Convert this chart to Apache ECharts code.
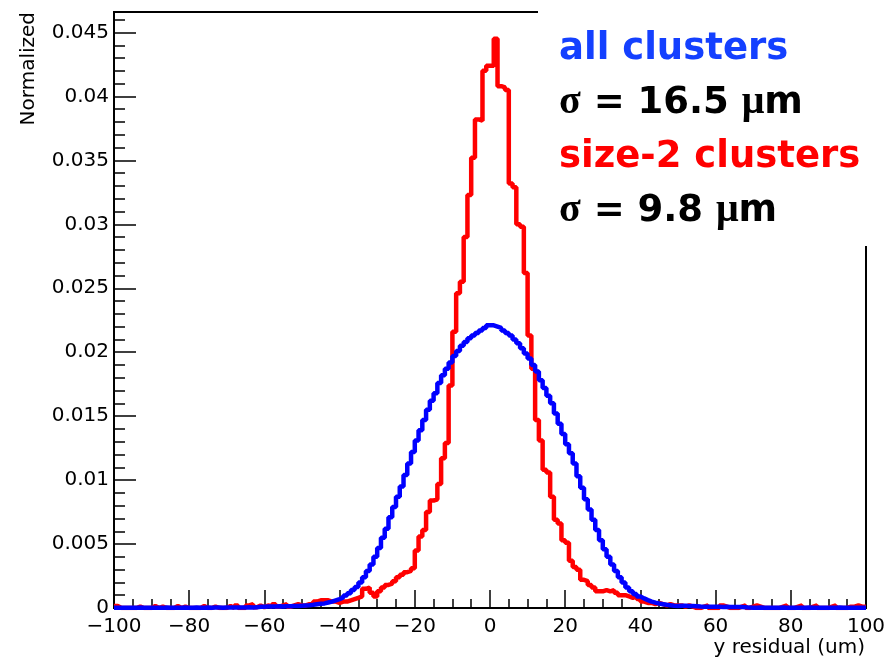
<!DOCTYPE html>
<html>
<head>
<meta charset="utf-8">
<title>y residual</title>
<script src="https://cdn.jsdelivr.net/npm/echarts/dist/echarts.min.js"></script>
<style>
  html, body { margin: 0; padding: 0; background: #fff; }
  #chart { width: 896px; height: 663px; }
</style>
</head>
<body>
<div id="chart"></div>
<script>
// histogram binning: 200 bins of 1 um from -100 to 100
const binLow = -100
const binHigh = 100
const binWidth = 1

// all clusters, normalized counts per bin
const allClusters = [
  0.00002, 0.00001, 0.00002, 0.00002, 0.00001, 0.00002, 0.00003, 0.00002, 0.00001, 0.00002,
  0.00002, 0.00002, 0.00001, 0.00003, 0.00002, 0.00002, 0.00001, 0.00002, 0.00003, 0.00002,
  0.00002, 0.00003, 0.00002, 0.00002, 0.00003, 0.00002, 0.00003, 0.00003, 0.00002, 0.00003,
  0.00003, 0.00004, 0.00003, 0.00004, 0.00004, 0.00005, 0.00004, 0.00005, 0.00009, 0.0001,
  0.00011, 0.00012, 0.00011, 0.00013, 0.00012, 0.00014, 0.00013, 0.00015, 0.00016, 0.00018,
  0.0002, 0.00022, 0.00025, 0.0003, 0.00033, 0.00036, 0.00043, 0.0005, 0.0006, 0.0007,
  0.00082, 0.00098, 0.00115, 0.0014, 0.00165, 0.002, 0.0024, 0.0029, 0.0034, 0.004,
  0.0047, 0.0055, 0.0062, 0.0071, 0.0079, 0.0087, 0.0095, 0.0104, 0.0113, 0.0122,
  0.0131, 0.0139, 0.0147, 0.0155, 0.0162, 0.0168, 0.0176, 0.0182, 0.0187, 0.0192,
  0.0197, 0.0201, 0.0205, 0.0208, 0.0211, 0.0213, 0.0215, 0.0217, 0.0219, 0.0221,
  0.0221, 0.022, 0.0219, 0.0217, 0.0215, 0.0213, 0.021, 0.0207, 0.0203, 0.0199,
  0.0195, 0.019, 0.0185, 0.0178, 0.0172, 0.0166, 0.016, 0.0152, 0.0144, 0.0136,
  0.0128, 0.0121, 0.0113, 0.0103, 0.0094, 0.0085, 0.0077, 0.0069, 0.0061, 0.0053,
  0.0046, 0.004, 0.0034, 0.0029, 0.0024, 0.002, 0.0016, 0.0013, 0.0011, 0.0009,
  0.00075, 0.00062, 0.0005, 0.00042, 0.00035, 0.0003, 0.00025, 0.00021, 0.00018, 0.00016,
  0.00018, 0.00017, 0.00016, 0.00015, 0.00014, 0.00011, 0.0001, 0.0001, 0.00009, 0.0001,
  0.00009, 0.00008, 0.00009, 0.00008, 0.00007, 0.00008, 0.00007, 0.00006, 0.00003, 0.00002,
  0.00002, 0.00003, 0.00002, 0.00002, 0.00001, 0.00002, 0.00002, 0.00003, 0.00002, 0.00002,
  0.00002, 0.00001, 0.00002, 0.00002, 0.00003, 0.00002, 0.00002, 0.00001, 0.00002, 0.00002,
  0.00002, 0.00002, 0.00003, 0.00002, 0.00001, 0.00002, 0.00002, 0.00002, 0.00001, 0.00002,
]

// size-2 clusters
const size2Clusters = [
  0.00015, 0, 0, 0, 0, 0, 0.00012, 0, 0, 0,
  0.00015, 0, 0.00012, 0, 0, 0, 0.00015, 0, 0.00012, 0,
  0, 0, 0, 0.00015, 0, 0, 0.00012, 0, 0, 0,
  0.00015, 0, 0.0002, 0, 0, 0.0002, 0.0003, 0.00005, 0.0002, 0.00005,
  0.0002, 0.0001, 0.0003, 0.0001, 0.0002, 0.0003, 0.0001, 0.0002, 0.0003, 0.0002,
  0.0002, 0.0003, 0.0003, 0.0005, 0.0006, 0.0006, 0.0006, 0.0005, 0.0005, 0.0004,
  0.0005, 0.0005, 0.0006, 0.0007, 0.0008, 0.0009, 0.0015, 0.0016, 0.0012, 0.0009,
  0.0013, 0.0016, 0.0018, 0.0019, 0.0021, 0.0024, 0.0026, 0.0028, 0.0029, 0.0031,
  0.0045, 0.0056, 0.0061, 0.0075, 0.0084, 0.0085, 0.0097, 0.0117, 0.0129, 0.0174,
  0.0216, 0.0246, 0.0255, 0.029, 0.0323, 0.0352, 0.0382, 0.0381, 0.042, 0.0424,
  0.0424, 0.0445, 0.0408, 0.0407, 0.0405, 0.0332, 0.0329, 0.03, 0.0298, 0.0262,
  0.0213, 0.0187, 0.0147, 0.0131, 0.0108, 0.0106, 0.0087, 0.0069, 0.0066, 0.0053,
  0.0051, 0.0037, 0.0032, 0.003, 0.0022, 0.0021, 0.0018, 0.0016, 0.0013, 0.0013,
  0.0014, 0.0013, 0.0014, 0.0012, 0.001, 0.001, 0.0009, 0.0008, 0.0009, 0.0007,
  0.0005, 0.0004, 0.0004, 0.0003, 0.0004, 0.0003, 0.0002, 0.0003, 0.0002, 0.0002,
  0.0002, 0.0001, 0.0002, 0.0001, 0, 0, 0.0001, 0.0002, 0, 0,
  0, 0.0002, 0.0001, 0, 0, 0, 0.0001, 0.0002, 0, 0.0001,
  0.0002, 0.0001, 0, 0, 0, 0, 0, 0.0001, 0.0002, 0,
  0, 0.0001, 0.0002, 0, 0, 0.0001, 0.0002, 0, 0, 0,
  0.0001, 0.0002, 0, 0, 0, 0.0001, 0.0001, 0.0002, 0.0001, 0.0001,
]

const legendLines = [
  { text: 'all clusters', color: '#1440ff' },
  { text: '{g|σ} = 16.5 {g|μ}m', color: '#000' },
  { text: 'size-2 clusters', color: '#ff0000' },
  { text: '{g|σ} = 9.8 {g|μ}m', color: '#000' },
]

const xTitle = 'y residual (um)'
const yTitle = 'Normalized'

const labelFont = 'DejaVu Sans'

// bin contents -> step points at the lower edge of each bin, plus the closing edge
function toSteps (values) {
  const points = values.map((v, i) => [binLow + i * binWidth, v])
  points.push([binHigh, values[values.length - 1]])
  return points
}

function histSeries (name, values, color) {
  return {
    name,
    type: 'line',
    step: 'end',
    symbol: 'none',
    data: toSteps(values),
    lineStyle: { color, width: 4.5 },
    emphasis: { disabled: true },
  }
}

const tickStyle = { color: '#000', width: 1.5 }

const chart = echarts.init(document.getElementById('chart'))

chart.setOption({
  animation: false,
  backgroundColor: '#fff',
  grid: {
    left: 114,
    right: 30,
    top: 12,
    bottom: 55,
    show: true,
    borderColor: '#000',
    borderWidth: 2,
    backgroundColor: 'transparent',
  },
  xAxis: {
    type: 'value',
    min: binLow,
    max: binHigh,
    interval: 20,
    axisLine: { onZero: false, lineStyle: { color: '#000', width: 2 } },
    axisTick: { inside: true, length: 18, lineStyle: tickStyle },
    minorTick: { show: true, splitNumber: 4, length: 9, lineStyle: tickStyle },
    splitLine: { show: false },
    axisLabel: {
      margin: 9,
      color: '#000',
      fontFamily: labelFont,
      fontSize: 20,
      formatter: v => String(v).replace('-', '\u2212'),
    },
  },
  yAxis: {
    type: 'value',
    min: 0,
    max: 0.0466,
    interval: 0.005,
    axisLine: { show: true, onZero: false, lineStyle: { color: '#000', width: 2 } },
    axisTick: { show: true, inside: true, length: 22, lineStyle: tickStyle },
    minorTick: { show: true, splitNumber: 5, length: 11, lineStyle: tickStyle },
    splitLine: { show: false },
    axisLabel: {
      margin: 5,
      color: '#000',
      fontFamily: labelFont,
      fontSize: 20,
      formatter: (v) => {
        const k = v / 0.005
        if (Math.abs(k - Math.round(k)) > 1e-6) return ''
        return String(parseFloat(v.toFixed(3)))
      },
    },
  },
  series: [
    histSeries('size-2 clusters', size2Clusters, '#ff0000'),
    histSeries('all clusters', allClusters, '#0000ff'),
  ],
  graphic: [
    {
      type: 'rect',
      z: 100,
      shape: { x: 538, y: 0, width: 358, height: 246 },
      style: { fill: '#fff' },
    },
    ...legendLines.map((line, i) => ({
      type: 'text',
      z: 101,
      x: 559,
      y: 49 + i * 54,
      style: {
        text: line.text,
        fill: line.color,
        fontFamily: labelFont,
        fontWeight: 'bold',
        fontSize: 37,
        verticalAlign: 'middle',
        rich: {
          g: { fontFamily: 'Liberation Serif', fontWeight: 'bold', fontSize: 40, fill: line.color },
        },
      },
    })),
    {
      type: 'text',
      z: 101,
      x: 865,
      y: 648,
      style: {
        text: xTitle,
        fill: '#000',
        fontFamily: labelFont,
        fontSize: 20,
        align: 'right',
        verticalAlign: 'middle',
      },
    },
    {
      type: 'text',
      z: 101,
      x: 29,
      y: 12,
      rotation: Math.PI / 2,
      style: {
        text: yTitle,
        fill: '#000',
        fontFamily: labelFont,
        fontSize: 20,
        align: 'right',
        verticalAlign: 'middle',
      },
    },
  ],
})
</script>
</body>
</html>
